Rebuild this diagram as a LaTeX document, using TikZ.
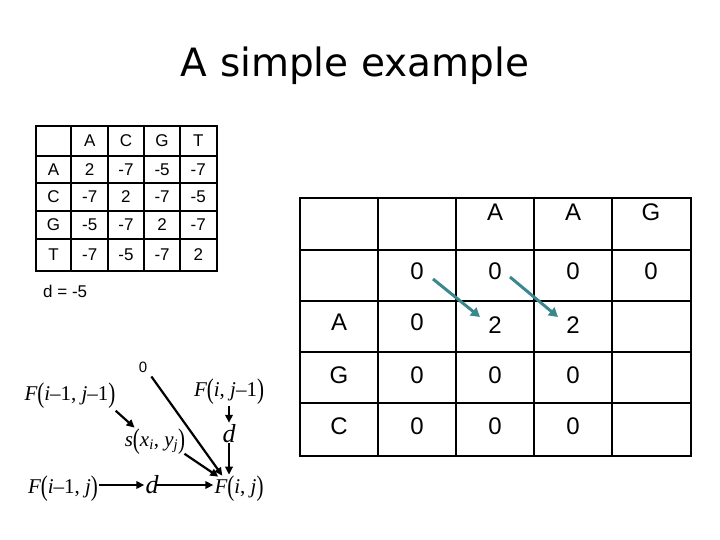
\documentclass[tikz,border=0pt]{standalone}
\usepackage{fontspec}
\setmainfont{Liberation Sans}
\newfontfamily\titlefont{DejaVu Sans}
\newfontfamily\serifit{Liberation Serif}
\usetikzlibrary{arrows.meta,calc}
\definecolor{tealarrow}{RGB}{58,135,140}
\newcommand{\LP}{\raisebox{-0.12em}{\scalebox{1}[1.35]{(}}}
\newcommand{\RP}{\raisebox{-0.12em}{\scalebox{1}[1.35]{)}}}
\tikzset{
  smcell/.style={inner sep=0pt,font=\fontsize{17}{19}\selectfont},
  bgcell/.style={inner sep=0pt,font=\fontsize{24}{27}\selectfont},
  formula/.style={inner sep=1pt,anchor=base,font=\serifit\fontsize{21}{24}\selectfont},
  dlbl/.style={inner sep=1pt,anchor=base,font=\serifit\itshape\fontsize{26}{28}\selectfont},
  arr/.style={line width=2.2pt,-{Triangle[length=8pt,width=7.5pt]}},
  tarr/.style={draw=tealarrow,line width=3pt,-{Triangle[length=9pt,width=10pt]}},
  outerline/.style={line width=2.6pt},
  innerline/.style={line width=1.8pt}
}
\begin{document}
\begin{tikzpicture}[x=1pt,y=-1pt]
\useasboundingbox (0,0) rectangle (720,540);
% title
\node[anchor=base,inner sep=0pt,font=\titlefont\fontsize{39}{42}\selectfont] (title) at (355,77) {A simple example};

% small scoring table
\foreach \x in {71,108,144,180} \draw[innerline] (\x,126) -- (\x,271);
\foreach \y in {156,183,211,239} \draw[innerline] (36,\y) -- (217,\y);
\draw[outerline] (36,126) rectangle (217,271);
\foreach \t [count=\c] in {A,C,G,T} {
  \pgfmathsetmacro{\cx}{53.5+36.2*\c}
  \node[smcell] (sh-\c) at (\cx,141) {\t};
}
\foreach \t/\y [count=\r] in {A/169.5,C/197,G/225,T/255} {
  \node[smcell] (sr-\r) at (53.5,\y) {\t};
}
\foreach \row/\y [count=\r] in {{2,-7,-5,-7}/169.5,{-7,2,-7,-5}/197,{-5,-7,2,-7}/225,{-7,-5,-7,2}/255} {
  \foreach \v [count=\c] in \row {
    \pgfmathsetmacro{\cx}{53.5+36.2*\c}
    \node[smcell] (s-\r-\c) at (\cx,\y) {\v};
  }
}
\node[anchor=base west,inner sep=0pt,font=\fontsize{17}{20}\selectfont] (dval) at (43,297) {d = -5};

% big DP table
\foreach \x in {378,456,534,612} \draw[innerline] (\x,198) -- (\x,456);
\foreach \y in {250,301,352,403} \draw[innerline] (300,\y) -- (691,\y);
\draw[outerline] (300,198) rectangle (691,456);
\node[bgcell] (b-1-3) at (495,212) {A};
\node[bgcell] (b-1-4) at (573,212) {A};
\node[bgcell] (b-1-5) at (651,212) {G};
\node[bgcell] (b-2-2) at (417,271) {0};
\node[bgcell] (b-2-3) at (495,271) {0};
\node[bgcell] (b-2-4) at (573,271) {0};
\node[bgcell] (b-2-5) at (651,271) {0};
\node[bgcell] (b-3-1) at (339,322) {A};
\node[bgcell] (b-3-2) at (417,322) {0};
\node[bgcell] (b-3-3) at (495,325) {2};
\node[bgcell] (b-3-4) at (573,325) {2};
\node[bgcell] (b-4-1) at (339,375) {G};
\node[bgcell] (b-4-2) at (417,375) {0};
\node[bgcell] (b-4-3) at (495,375) {0};
\node[bgcell] (b-4-4) at (573,375) {0};
\node[bgcell] (b-5-1) at (339,426) {C};
\node[bgcell] (b-5-2) at (417,426) {0};
\node[bgcell] (b-5-3) at (495,426) {0};
\node[bgcell] (b-5-4) at (573,426) {0};
\draw[tarr] ($(b-2-2)+(16,8)$) -- ($(b-3-3)+(-15,-8)$);
\draw[tarr] ($(b-2-3)+(15,6)$) -- ($(b-3-4)+(-15,-8)$);

% recurrence diagram
\node[inner sep=1pt,font=\fontsize{15}{17}\selectfont] (zero) at (143,367) {0};
\node[formula] (Fa) at (70,400) {{\itshape F}\LP{\itshape i}–1, {\itshape j}–1\RP};
\node[formula] (Fb) at (229,396) {{\itshape F}\LP{\itshape i}, {\itshape j}–1\RP};
\node[formula] (sx) at (155,446) {{\itshape s}\LP{\itshape x\textsubscript{i}}, {\itshape y\textsubscript{j}}\RP};
\node[dlbl] (d1) at (229,442) {d};
\node[formula] (Fc) at (63,493) {{\itshape F}\LP{\itshape i}–1, {\itshape j}\RP};
\node[dlbl] (d2) at (152,493) {d};
\node[formula] (Fd) at (239,493) {{\itshape F}\LP{\itshape i}, {\itshape j}\RP};

\draw[arr] ([shift={(3pt,-3pt)}]zero.south east) -- ([xshift=9pt,yshift=-1pt]Fd.north west);
\draw[arr] ([xshift=-1pt,yshift=-1pt]Fa.south east) -- ([xshift=11pt,yshift=0pt]sx.north west);
\draw[arr] ([xshift=-2pt,yshift=2pt]sx.south east) -- ([xshift=5pt,yshift=-2pt]Fd.north west);
\draw[arr] (Fb.south -| d1) -- (d1.north);
\draw[arr] (d1.south) -- (d1 |- Fd.north);
\draw[arr] ([yshift=8pt]Fc.base east) -- ([yshift=8pt]d2.base west);
\draw[arr] ([yshift=8pt,xshift=-4pt]d2.base east) -- ([yshift=8pt]Fd.base west);
\end{tikzpicture}
\end{document}
